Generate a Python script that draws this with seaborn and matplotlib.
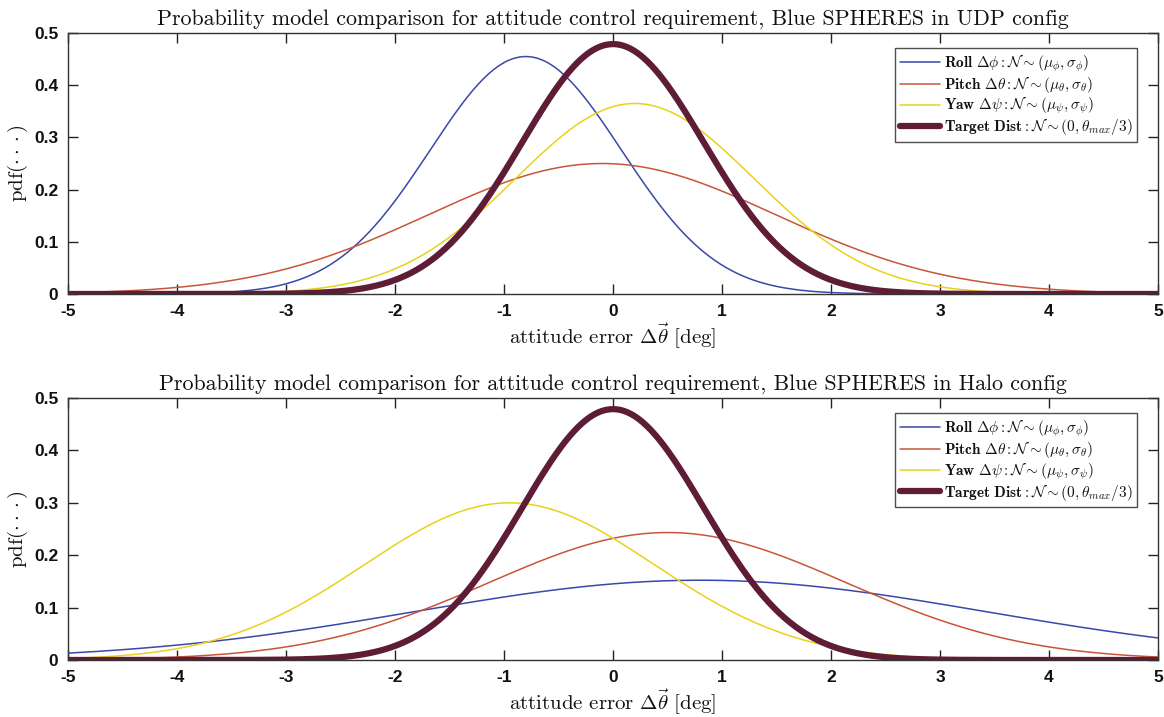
import numpy as np
import pandas as pd
import matplotlib
matplotlib.use("Agg")
import matplotlib.pyplot as plt
import seaborn as sns

# ---- data (normal-distribution parameters) ----
series_names = ["Roll", "Pitch", "Yaw", "Target"]
udp_mu = [-0.80, -0.10, 0.20, 0.0]
udp_sigma = [0.877, 1.596, 1.093, 2.5 / 3]
halo_mu = [0.80, 0.50, -0.95, 0.0]
halo_sigma = [2.62, 1.64, 1.33, 2.5 / 3]
x_ticks = [-5, -4, -3, -2, -1, 0, 1, 2, 3, 4, 5]
y_ticks = [0, 0.1, 0.2, 0.3, 0.4, 0.5]
y_tick_labels = ["0", "0.1", "0.2", "0.3", "0.4", "0.5"]
titles = [
    "Probability model comparison for attitude control requirement, Blue SPHERES in UDP config",
    "Probability model comparison for attitude control requirement, Blue SPHERES in Halo config",
]
legend_labels = [
    r"$\mathbf{Roll\ \Delta}\phi:\mathcal{N}\sim(\mu_\phi,\sigma_\phi)$",
    r"$\mathbf{Pitch\ \Delta}\theta:\mathcal{N}\sim(\mu_\theta,\sigma_\theta)$",
    r"$\mathbf{Yaw\ \Delta}\psi:\mathcal{N}\sim(\mu_\psi,\sigma_\psi)$",
    r"$\mathbf{Target\ Dist}:\mathcal{N}\sim(0,\theta_{max}/3)$",
]

colors = ["#3a48a8", "#c8553a", "#e8d21a", "#5e1c36"]
widths = [1.1, 1.1, 1.1, 4.5]

sns.set_theme(style="white")
plt.rcParams["mathtext.fontset"] = "cm"
plt.rcParams["font.family"] = ["Liberation Sans", "DejaVu Sans"]

fig = plt.figure(figsize=(11.64, 7.17), dpi=100)
W, H = 1164, 717
ax_boxes = [
    (68 / W, 1 - 294 / H, 1090 / W, 261 / H),
    (68 / W, 1 - 660 / H, 1090 / W, 262 / H),
]

xs = np.linspace(-5, 5, 801)
params = [(udp_mu, udp_sigma), (halo_mu, halo_sigma)]

for i, (mus, sigs) in enumerate(params):
    ax = fig.add_axes(ax_boxes[i])
    frames = []
    for name, m, s in zip(series_names, mus, sigs):
        pdf = np.exp(-0.5 * ((xs - m) / s) ** 2) / (s * np.sqrt(2 * np.pi))
        frames.append(pd.DataFrame({"x": xs, "pdf": pdf, "series": name}))
    df = pd.concat(frames, ignore_index=True)
    for j, name in enumerate(series_names):
        sub = df[df["series"] == name]
        sns.lineplot(data=sub, x="x", y="pdf", ax=ax, color=colors[j],
                     linewidth=widths[j], label=legend_labels[j],
                     solid_capstyle="round", zorder=3 + j)
    ax.set_xlim(-5, 5)
    ax.set_ylim(0, 0.5)
    ax.set_xticks(x_ticks)
    ax.set_xticklabels([str(t) for t in x_ticks], fontsize=12.5)
    ax.set_yticks(y_ticks)
    ax.set_yticklabels(y_tick_labels, fontsize=12.5)
    ax.tick_params(direction="in", length=7, width=1, colors="#222222",
                   top=True, right=True, bottom=True, left=True, pad=7,
                   labelcolor="#111111")
    for lab in ax.get_xticklabels() + ax.get_yticklabels():
        lab.set_fontweight("bold")
    for sp in ax.spines.values():
        sp.set_visible(True)
        sp.set_color("#333333")
        sp.set_linewidth(1.0)
    ax.set_title(titles[i], fontsize=15.8, family="cmr10", pad=6, color="#111111")
    ax.set_xlabel(r"attitude error $\Delta\vec{\theta}$ [deg]", fontsize=15,
                  family="cmr10", labelpad=2, color="#111111")
    ax.set_ylabel(r"pdf$(\cdot\cdot\cdot)$", fontsize=15, family="cmr10",
                  labelpad=3, color="#111111")
    leg = ax.legend(loc="upper right", bbox_to_anchor=(0.981, 0.943),
                    fontsize=11, frameon=True, fancybox=False,
                    handlelength=2.6, handletextpad=0.3, borderpad=0.3,
                    labelspacing=0.0, borderaxespad=0.0)
    leg.get_frame().set_edgecolor("#222222")
    leg.get_frame().set_linewidth(1.0)
    for t in leg.get_texts():
        t.set_color("#111111")

fig.savefig("out.png", dpi=100, facecolor="white")
